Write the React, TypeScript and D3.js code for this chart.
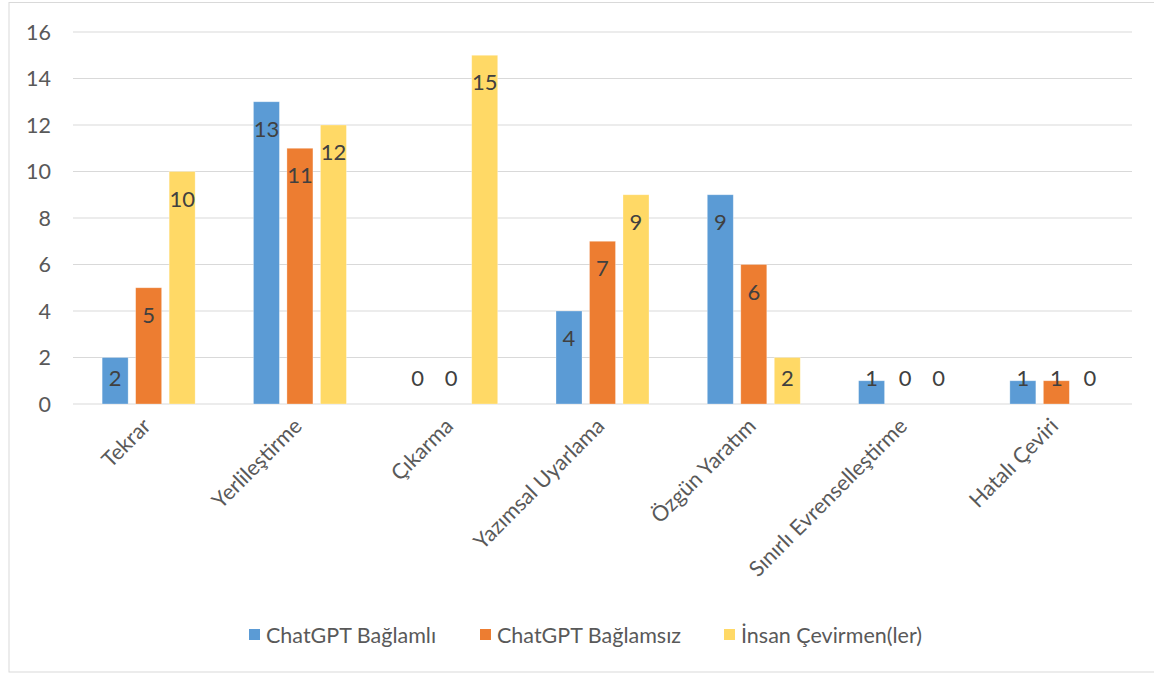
import React from "react";
import * as d3 from "d3";

const categories = ["Tekrar", "Yerlileştirme", "Çıkarma", "Yazımsal Uyarlama", "Özgün Yaratım", "Sınırlı Evrenselleştirme", "Hatalı Çeviri"];
const seriesNames = ["ChatGPT Bağlamlı", "ChatGPT Bağlamsız", "İnsan Çevirmen(ler)"];
const bagliValues = [2, 13, 0, 4, 9, 1, 1];
const baglamsizValues = [5, 11, 0, 7, 6, 0, 1];
const insanValues = [10, 12, 15, 9, 2, 0, 0];
const yTicks = [0, 2, 4, 6, 8, 10, 12, 14, 16];
const colors = ["#5b9bd5", "#ed7d31", "#ffd966"];

const W = 1154;
const H = 675;
const FONT = "Lato, 'Open Sans', sans-serif";

export default function App() {
  const series = [bagliValues, baglamsizValues, insanValues];
  const left = 73, right = 1132, top = 32, bottom = 404;
  const x = d3.scaleBand<string>().domain(categories).range([left, right]).padding(0);
  const y = d3.scaleLinear().domain([0, 16]).range([bottom, top]);
  const barW = 26;
  const barStep = 33.5;

  return (
    <svg width={W} height={H} style={{ position: "absolute", left: 0, top: 0, background: "#fff" }}>
      <rect x={9} y={2.5} width={1160} height={669.5} fill="#fff" stroke="#d9d9d9" strokeWidth={1} />
      {yTicks.map((t) => (
        <g key={t}>
          <line x1={left} x2={right} y1={y(t)} y2={y(t)} stroke="#d9d9d9" strokeWidth={1} />
          <text x={51} y={y(t)} dy="0.36em" textAnchor="end" fontSize={21.5} fill="#595959" fontFamily={FONT}>{t}</text>
        </g>
      ))}
      {categories.map((c, ci) => {
        const cx = (x(c) as number) + x.bandwidth() / 2;
        return (
          <g key={c}>
            {series.map((vals, si) => {
              const v = vals[ci];
              const bx = cx + (si - 1) * barStep - barW / 2;
              const by = y(v);
              const labelBase = Math.min(by + 35, bottom - 18);
              return (
                <g key={si}>
                  {v > 0 && (
                    <rect x={bx} y={by} width={barW} height={bottom - by} fill={colors[si]} stroke="#fff" strokeOpacity={0.4} strokeWidth={0.75} />
                  )}
                  <text x={bx + barW / 2} y={labelBase} textAnchor="middle" fontSize={22} fill="#404040" fontFamily={FONT}>{v}</text>
                </g>
              );
            })}
            <text
              transform={`translate(${cx - 8},${bottom + 12}) rotate(-45)`}
              textAnchor="end"
              dy="0.75em"
              fontSize={21.5}
              fill="#595959"
              fontFamily={FONT}
            >{c}</text>
          </g>
        );
      })}
      {(() => {
        const legendX = [249, 480, 724];
        return seriesNames.map((n, i) => (
          <g key={n}>
            <rect x={legendX[i]} y={629} width={11} height={11} fill={colors[i]} />
            <text x={legendX[i] + 17} y={635} dy="0.36em" fontSize={21.5} fill="#595959" fontFamily={FONT}>{n}</text>
          </g>
        ));
      })()}
    </svg>
  );
}
